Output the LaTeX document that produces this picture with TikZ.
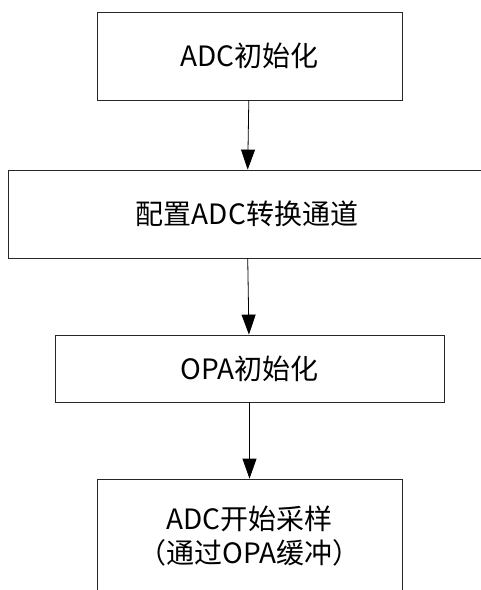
\documentclass[tikz,border=0pt]{standalone}
\usepackage{fontspec}
\setmainfont{Noto Sans CJK SC}
\usetikzlibrary{arrows.meta}

\tikzset{
  stepbox/.style={draw=black!85, line width=0.8pt, minimum height=#1, inner sep=0pt,
    align=center, font=\fontsize{28}{34}\selectfont},
  flow/.style={-{Triangle[length=20pt,width=14pt]}, line width=0.8pt}
}

\begin{document}
\begin{tikzpicture}[x=1pt,y=-1pt]
        \useasboundingbox (0,0) rectangle (481,590);

        \node[stepbox=88pt, minimum width=305pt] (adcinit) at (249.5,56) {ADC初始化};
        \node[stepbox=88pt, minimum width=478pt] (chan) at (247,214) {配置ADC转换通道};
        \node[stepbox=67pt, minimum width=389pt] (opainit) at (249.5,368.5) {OPA初始化};
        \node[stepbox=114pt, minimum width=305pt] (sample) at (249.5,536) {ADC开始采样\\（通过OPA缓冲）};

        \draw[flow] (adcinit) -- (chan);
        \draw[flow] (chan) -- (opainit);
        \draw[flow] (opainit) -- (sample);
      \end{tikzpicture}
\end{document}
